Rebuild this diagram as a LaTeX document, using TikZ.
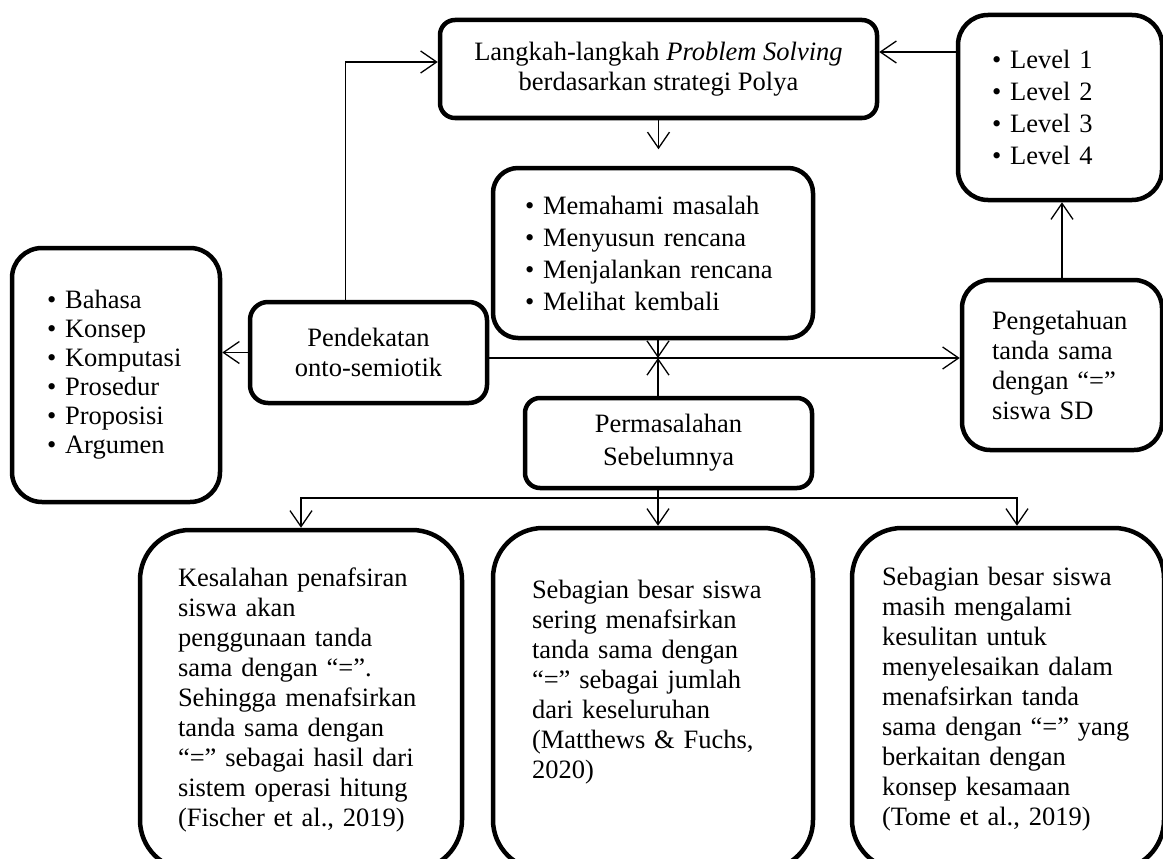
\documentclass[tikz,border=0pt]{standalone}
\usepackage{fontspec}
\setmainfont{Liberation Serif}
\usetikzlibrary{arrows.meta}

\begin{document}
\begin{tikzpicture}[x=1pt,y=-1pt,
    >={Straight Barb[length=16pt,width=22pt]},
    font=\fontsize{26.5}{30}\selectfont,
    box/.style={draw,line width=4.5pt,inner sep=0pt},
    list/.style={box,align=left},
    link/.style={line width=1.3pt}]

          \useasboundingbox (0,0) rectangle (1163,859);

          \node[box,rounded corners=15pt,minimum width=437pt,minimum height=98pt,align=center]
                (langk) at (658.5,69) {Langkah-langkah \textit{Problem Solving}\\berdasarkan strategi Polya};
          \node[list,rounded corners=30pt,minimum width=204pt,minimum height=185pt,text width=136pt,
                font=\fontsize{26.5}{32}\selectfont]
                (level) at (1060,107.5) {• Level 1\\• Level 2\\• Level 3\\• Level 4};
          \node[list,rounded corners=25pt,minimum width=320pt,minimum height=170pt,text width=256pt,
                font=\fontsize{26.5}{32}\selectfont]
                (steps) at (653,253) {• Memahami masalah\\• Menyusun rencana\\• Menjalankan rencana\\• Melihat kembali};
          \node[box,rounded corners=18pt,minimum width=237pt,minimum height=101pt,align=center]
                (pend) at (368.5,352.5) {Pendekatan\\onto-semiotik};
          \node[list,rounded corners=30pt,minimum width=208pt,minimum height=254pt,text width=138pt,
                font=\fontsize{26.5}{29}\selectfont]
                (bahasa) at (116,375) {• Bahasa\\• Konsep\\• Komputasi\\• Prosedur\\• Proposisi\\• Argumen};
          \node[list,rounded corners=28pt,minimum width=200pt,minimum height=170pt,text width=140pt]
                (pengt) at (1062,365) {Pengetahuan\\tanda sama\\dengan “=”\\siswa SD};
          \node[box,rounded corners=15pt,minimum width=287pt,minimum height=90pt,align=center,
                font=\fontsize{26.5}{33}\selectfont]
                (masalah) at (668.5,443) {Permasalahan\\Sebelumnya};

          % problems found in earlier studies
          \node[list,rounded corners=50pt,minimum width=322pt,minimum height=340pt,text width=246pt]
                (kiri) at (301,700) {Kesalahan penafsiran\\siswa akan\\penggunaan tanda\\sama dengan “=”.\\Sehingga menafsirkan\\tanda sama dengan\\“=” sebagai hasil dari\\sistem operasi hitung\\(Fischer et al., 2019)};
          \node[list,rounded corners=50pt,minimum width=320pt,minimum height=342pt,text width=242pt]
                (tengah) at (653,699) {Sebagian besar siswa\\sering menafsirkan\\tanda sama dengan\\“=” sebagai jumlah\\dari keseluruhan\\(Matthews \& Fuchs,\\2020)\\ \strut};
          \node[list,rounded corners=50pt,minimum width=312pt,minimum height=342pt,text width=252pt]
                (kanan) at (1008,699) {Sebagian besar siswa\\masih mengalami\\kesulitan untuk\\menyelesaikan dalam\\menafsirkan tanda\\sama dengan “=” yang\\berkaitan dengan\\konsep kesamaan\\(Tome et al., 2019)};

          \coordinate (mid) at (658,358);
          \coordinate (split) at (658,498);

          \draw[link,->] ([xshift=-23pt]pend.north) |- ([yshift=7pt]langk.west);
          \draw[link,->] ([yshift=17pt]langk.east -| level.west) -- ([yshift=17pt]langk.east);
          \draw[link,->] (langk.south) -- ++(0,29);
          \draw[link,->] (steps.south -| mid) -- (mid);
          \draw[link,->] (masalah.north -| mid) -- (mid);
          \draw[link,->] (pend.east |- mid) -- (mid -| pengt.west);
          \draw[link,->] (pend.west) -- (pend.west -| bahasa.east);
          \draw[link,->] (pengt.north) -- (pengt.north |- level.south);

          \draw[link] (masalah.south -| split) -- (split);
          \draw[link,->] (split) -| (kiri.north);
          \draw[link,->] (split) -- (split |- tengah.north);
          \draw[link,->] (split) -| ([xshift=9pt]kanan.north);
        \end{tikzpicture}
\end{document}
